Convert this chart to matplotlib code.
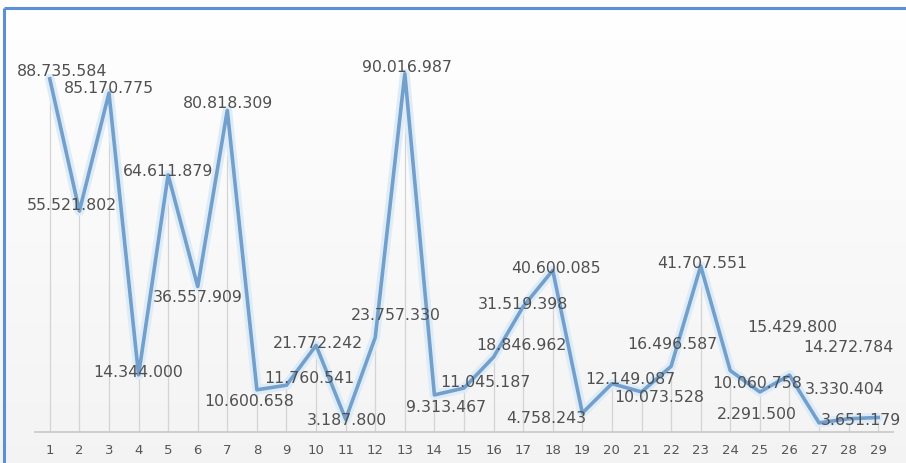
import matplotlib
matplotlib.use("Agg")
import matplotlib.pyplot as plt
import numpy as np

categories = list(range(1, 30))
values = [88735584, 55521802, 85170775, 14344000, 64611879, 36557909, 80818309,
          10600658, 11760541, 21772242, 3187800, 23757330, 90016987, 9313467,
          11045187, 18846962, 31519398, 40600085, 4758243, 12149087, 10073528,
          16496587, 41707551, 15429800, 10060758, 14272784, 2291500, 3330404,
          3651179]
tick_labels = [str(c) for c in categories]

# label offsets in pixels (layout only)
label_dx = [12, -8, 0, 0, 0, 0, 1, -8, 23, 2, 1, 21, 2, 12, 21, 28, 0, 3, -36,
            18, 18, 1, 2, 62, -3, 59, -62, -4, -17]
label_dy = [-8, -7, -6, -3, -4, 10, -8, 11, -8, -3, 0, -23, -7, 12, -7, -12, -3,
            -3, 4, -5, 5, -23, -4, -44, -9, -29, -9, -30, 2]

W, H = 906, 464
fig = plt.figure(figsize=(W / 100, H / 100), dpi=100)
fig.patch.set_facecolor("white")

# background gradient for the chart area
bg = fig.add_axes([0, 0, 1, 1], zorder=0)
grad = np.linspace(1.0, 0.955, 256).reshape(-1, 1)
bg.imshow(np.dstack([grad, grad, grad]), aspect="auto", extent=[0, 1, 0, 1],
          origin="upper")
bg.set_xlim(0, 1)
bg.set_ylim(0, 1)
bg.axis("off")
# blue frame (top and left edges visible)
bg.plot([4 / W, 4 / W], [0, 1 - 9 / H], color="#5b8fd6", lw=2.2,
        solid_capstyle="butt")
bg.plot([4 / W, 1], [1 - 9 / H, 1 - 9 / H], color="#5b8fd6", lw=2.2,
        solid_capstyle="butt")

left, right = 35, 893
bottom, top = 433, 35
ax = fig.add_axes([left / W, (H - bottom) / H, (right - left) / W,
                   (bottom - top) / H], zorder=1)
ax.set_facecolor("none")
ax.set_xlim(0.5, 29.5)
ax.set_ylim(0, 100_000_000)

x = np.array(categories)
y = np.array(values)

# drop lines
ax.vlines(x, 0, y, color="#d4d4d4", lw=0.9, zorder=1)
# glow + line
ax.plot(x, y, color="#deecf8", lw=7, solid_joinstyle="round",
        solid_capstyle="round", zorder=2)
ax.plot(x, y, color="#739fcc", lw=2.6, solid_joinstyle="round", zorder=3)

def fmt(v):
    return f"{v:,}".replace(",", ".")

for xi, yi, dx, dy in zip(x, y, label_dx, label_dy):
    ax.annotate(fmt(yi), (xi, yi), xytext=(dx, -dy), textcoords="offset pixels",
                ha="center", va="center", fontsize=11.3, color="#505050",
                zorder=4)

ax.set_yticks([])
ax.set_xticks(x)
ax.set_xticklabels(tick_labels, fontsize=9.5, color="#555555")
ax.tick_params(axis="x", length=0, pad=8)
for s in ["left", "right", "top"]:
    ax.spines[s].set_visible(False)
ax.spines["bottom"].set_color("#c8c8c8")
ax.spines["bottom"].set_linewidth(1.2)

fig.savefig("out.png", dpi=100)
